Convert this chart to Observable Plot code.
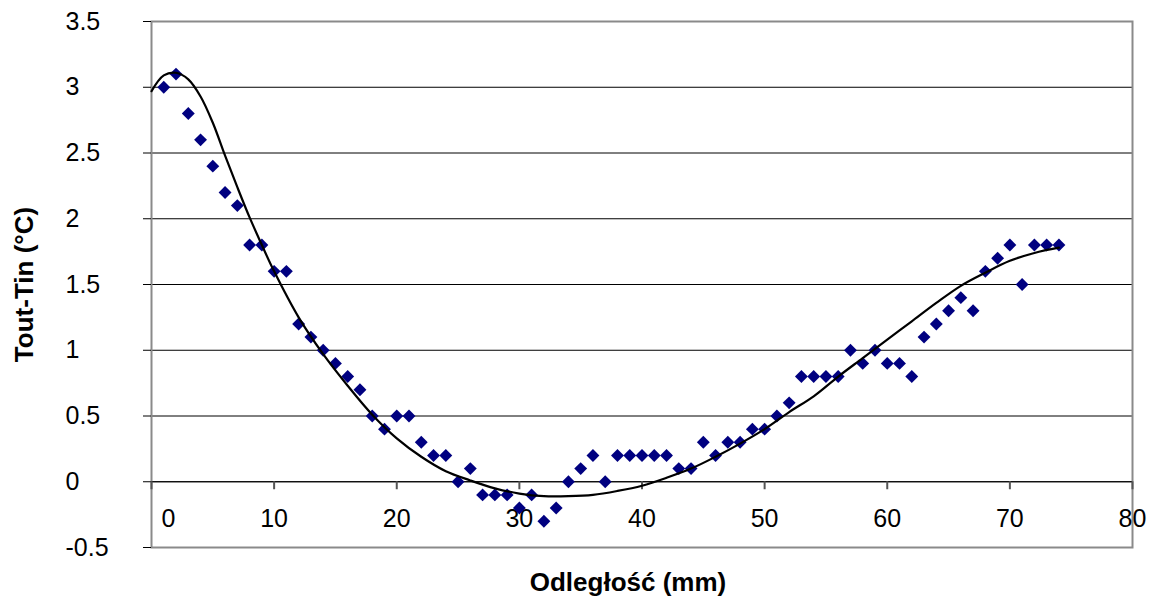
<!DOCTYPE html>
<html>
<head>
<meta charset="utf-8">
<script src="https://cdn.jsdelivr.net/npm/d3@7"></script>
<script src="https://cdn.jsdelivr.net/npm/@observablehq/plot@0.6"></script>
<style>
  html, body { margin: 0; padding: 0; background: #ffffff; }
  #chart svg { display: block; }
</style>
</head>
<body>
<div id="chart"></div>
<script>
// Measured data: distance (mm) and temperature difference Tout-Tin (°C)
const distance = [
  1, 2, 3, 4, 5, 6, 7, 8, 9, 10,
  11, 12, 13, 14, 15, 16, 17, 18, 19, 20,
  21, 22, 23, 24, 25, 26, 27, 28, 29, 30,
  31, 32, 33, 34, 35, 36, 37, 38, 39, 40,
  41, 42, 43, 44, 45, 46, 47, 48, 49, 50,
  51, 52, 53, 54, 55, 56, 57, 58, 59, 60,
  61, 62, 63, 64, 65, 66, 67, 68, 69, 70,
  71, 72, 73, 74
];
const deltaT = [
  3.0, 3.1, 2.8, 2.6, 2.4, 2.2, 2.1, 1.8, 1.8, 1.6,
  1.6, 1.2, 1.1, 1.0, 0.9, 0.8, 0.7, 0.5, 0.4, 0.5,
  0.5, 0.3, 0.2, 0.2, 0.0, 0.1, -0.1, -0.1, -0.1, -0.2,
  -0.1, -0.3, -0.2, 0.0, 0.1, 0.2, 0.0, 0.2, 0.2, 0.2,
  0.2, 0.2, 0.1, 0.1, 0.3, 0.2, 0.3, 0.3, 0.4, 0.4,
  0.5, 0.6, 0.8, 0.8, 0.8, 0.8, 1.0, 0.9, 1.0, 0.9,
  0.9, 0.8, 1.1, 1.2, 1.3, 1.4, 1.3, 1.6, 1.7, 1.8,
  1.5, 1.8, 1.8, 1.8
];

// Trend line
const trendX = [0, 1, 2, 3, 4, 5, 6, 7, 8, 9, 10, 12, 14, 16, 18, 20, 22, 24, 26, 28, 30, 32, 34, 36, 38, 40, 42, 44, 46, 48, 50, 52, 54, 56, 58, 60, 62, 64, 66, 68, 70, 72, 74];
const trendY = [2.97, 3.09, 3.11, 3.06, 2.93, 2.73, 2.48, 2.24, 2.01, 1.80, 1.60, 1.25, 0.97, 0.73, 0.51, 0.33, 0.19, 0.08, 0.01, -0.05, -0.09, -0.11, -0.11, -0.10, -0.07, -0.03, 0.03, 0.10, 0.19, 0.29, 0.40, 0.53, 0.65, 0.80, 0.94, 1.08, 1.22, 1.36, 1.49, 1.59, 1.68, 1.74, 1.78];

const xTicks = [0, 10, 20, 30, 40, 50, 60, 70, 80];
const yTicks = [-0.5, 0, 0.5, 1, 1.5, 2, 2.5, 3, 3.5];
const xTitle = "Odległość (mm)";
const yTitle = "Tout-Tin (°C)";

const points = distance.map((x, i) => ({x, y: deltaT[i]}));
const trend = trendX.map((x, i) => ({x, y: trendY[i]}));
const gridTicks = yTicks.filter(d => d > yTicks[0] && d < yTicks[yTicks.length - 1]);

const font = "'Liberation Sans', Arial, Helvetica, sans-serif";

const chart = Plot.plot({
  width: 1149,
  height: 605,
  marginLeft: 151,
  marginRight: 17,
  marginTop: 21,
  marginBottom: 58,
  x: {domain: [0, 80], axis: null},
  y: {domain: [-0.5, 3.5], axis: null},
  style: {fontFamily: font, background: "#ffffff", color: "#000000"},
  marks: [
    // horizontal gridlines
    Plot.ruleY(gridTicks, {y: d => d, stroke: "#000000", strokeWidth: 1}),
    // plot area border / y axis line
    Plot.frame({stroke: "#8a8a8a", strokeWidth: 2}),
    // y tick marks (outside, left)
    Plot.ruleY(yTicks, {y: d => d, x1: 0, x2: 0, insetLeft: -8, stroke: "#000000", strokeWidth: 1}),
    // x axis line at y = 0 with tick marks downward
    Plot.ruleY([0], {y: d => d, stroke: "#000000", strokeWidth: 1}),
    Plot.ruleX(xTicks, {x: d => d, y1: 0, y2: 0, insetBottom: -8, stroke: "#555555", strokeWidth: 2}),
    // y tick labels, left aligned
    Plot.text(yTicks, {y: d => d, text: d => String(d), frameAnchor: "left", dx: -86, textAnchor: "start", fontSize: 25, fill: "#000000"}),
    // x tick labels under the y=0 axis
    Plot.text(xTicks.filter(d => d !== 0), {x: d => d, y: 0, dy: 37, text: d => String(d), fontSize: 25, fill: "#000000"}),
    Plot.text(xTicks.filter(d => d === 0), {x: d => d, y: 0, dy: 37, dx: 17, text: d => String(d), fontSize: 25, fill: "#000000"}),
    // data points
    Plot.dot(points, {x: "x", y: "y", symbol: "diamond2", r: 5.8, fill: "#000080", stroke: "none"}),
    // trend line
    Plot.line(trend, {x: "x", y: "y", stroke: "#000000", strokeWidth: 2.2, curve: "catmull-rom"}),
    // axis titles
    Plot.text([xTitle], {text: d => d, frameAnchor: "bottom", dy: 43, dx: -14, textAnchor: "middle", fontSize: 26, fontWeight: "bold", fill: "#000000"}),
    Plot.text([yTitle], {text: d => d, frameAnchor: "left", dx: -127, textAnchor: "middle", rotate: -90, fontSize: 26, fontWeight: "bold", fill: "#000000"})
  ]
});

document.getElementById("chart").appendChild(chart);
</script>
</body>
</html>
